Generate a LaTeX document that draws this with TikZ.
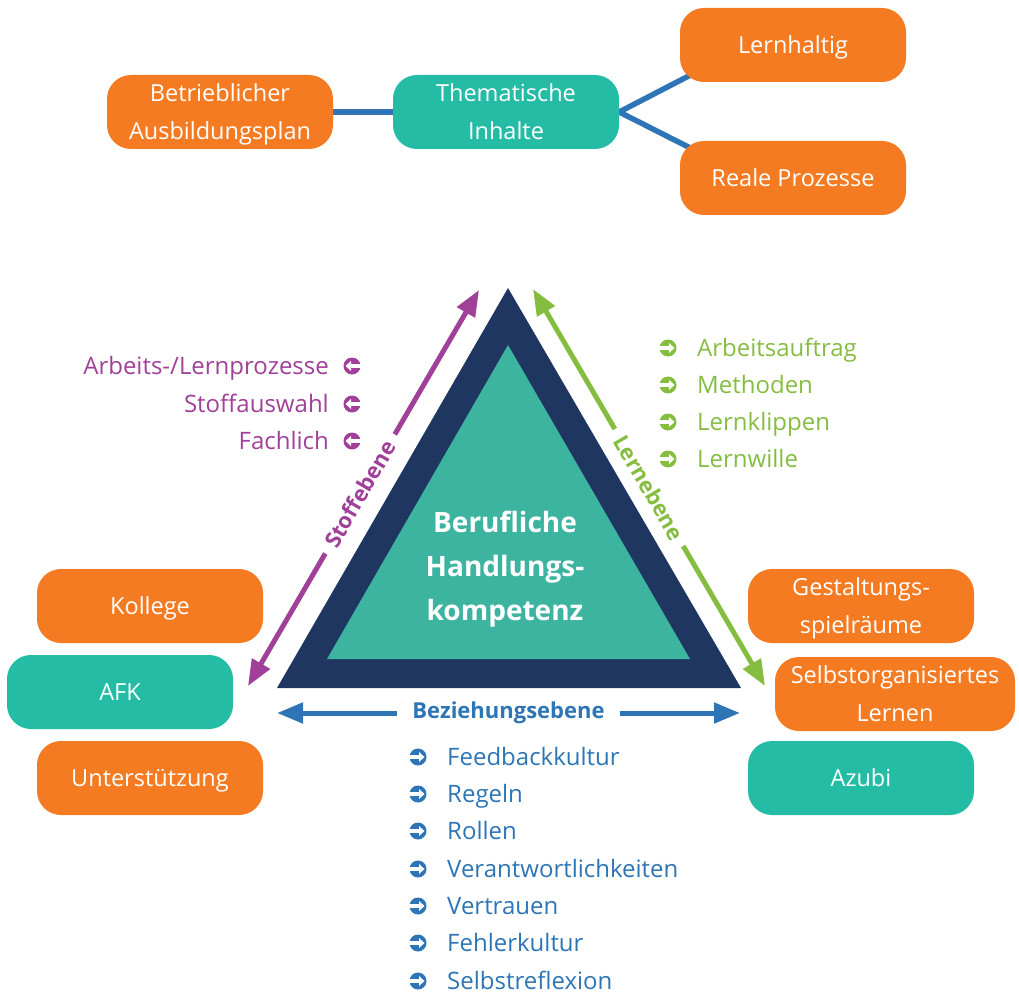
\documentclass[tikz,border=0pt]{standalone}
\usepackage{fontspec}
\setmainfont{Open Sans}
\usetikzlibrary{arrows.meta,backgrounds}

\definecolor{boxorange}{RGB}{244,123,34}
\definecolor{boxteal}{RGB}{37,188,166}
\definecolor{tricore}{RGB}{61,180,160}
\definecolor{trinavy}{RGB}{31,54,97}
\definecolor{stoffmag}{RGB}{161,64,152}
\definecolor{lerngreen}{RGB}{133,189,65}
\definecolor{bezblue}{RGB}{46,117,182}

\begin{document}
\begin{tikzpicture}[x=1pt, y=-1pt,
  box/.style={rounded corners=24pt, minimum width=226pt, minimum height=74pt, inner sep=0pt,
    align=center, text=white, text height=20pt, text depth=3pt, font=\fontsize{23.5}{38}\selectfont},
  twolines/.style={text height=58pt},
  obox/.style={box, fill=boxorange},
  tbox/.style={box, fill=boxteal},
  link/.style={line width=5.5pt, bezblue},
  level/.style={line width=5pt, {Triangle[length=26pt,width=20pt]}-{Triangle[length=26pt,width=20pt]}},
  lvl/.style={sloped, fill=white, inner ysep=1pt, font=\fontsize{22}{22}\selectfont\bfseries},
  % round arrow bullet, pointing right
  rbul/.pic={
    \fill (0,0) circle (8.5);
    \fill[white] (-9,-1.8) -- (1,-1.8) -- (1,-5) -- (6.5,0) -- (1,5) -- (1,1.8) -- (-9,1.8) -- cycle;
  },
  listitem/.style={inner sep=0pt, text height=19pt, text depth=3pt, font=\fontsize{24}{24}\selectfont},
  ritem/.style={listitem, anchor=west,
    append after command={pic[#1] at ([xshift=-29pt]\tikzlastnode.west) {rbul}}},
  litem/.style={listitem, anchor=east,
    append after command={pic[#1, xscale=-1] at ([xshift=23pt]\tikzlastnode.east) {rbul}}}
]
  \useasboundingbox (0,0) rectangle (1019,992);

  % top row
  \node[obox, twolines] (betr) at (220,112) {Betrieblicher\\Ausbildungsplan};
  \node[tbox, twolines] (them) at (506,112) {Thematische\\Inhalte};
  \node[obox] (lern) at (793,45) {Lernhaltig};
  \node[obox] (real) at (793,178) {Reale Prozesse};
  \begin{scope}[on background layer]
    \draw[link] (betr) -- (them);
    \draw[link] (them.east) -- ([xshift=20pt,yshift=12pt]lern.south west);
    \draw[link] (them.east) -- ([xshift=20pt,yshift=-12pt]real.north west);
  \end{scope}

  % triangle
  \fill[trinavy] (508,288) -- (277,688) -- (741,688) -- cycle;
  \fill[tricore] (508,345) -- (327,659) -- (690,659) -- cycle;
  \node[font=\fontsize{28}{44}\selectfont\bfseries, text=white, align=center] (kern) at (505,569)
    {Berufliche\\Handlungs-\\kompetenz};

  % the three levels
  \coordinate (stofftop) at (479,290);
  \coordinate (stoffbot) at (248,686);
  \coordinate (lerntop) at (533,289);
  \coordinate (lernbot) at (765,686);
  \coordinate (bezl) at (277,713);
  \coordinate (bezr) at (740,713);
  \draw[level, stoffmag] (stoffbot) -- (stofftop)
    node[lvl, pos=0.485, text=stoffmag, inner xsep=9pt] {Stoffebene};
  \draw[level, lerngreen] (lerntop) -- (lernbot)
    node[lvl, pos=0.5, text=lerngreen, inner xsep=9pt] {Lernebene};
  \draw[level, bezblue] (bezl) -- (bezr)
    node[lvl, pos=0.5, text=bezblue, inner xsep=15pt] {Beziehungsebene};

  % corner boxes
  \node[obox] (koll) at (150,606) {Kollege};
  \node[tbox] (afk) at (120,692) {AFK};
  \node[obox] (unter) at (150,778) {Unterstützung};
  \node[obox, twolines] (gest) at (861,606) {Gestaltungs-\\spielräume};
  \node[obox, twolines, minimum width=240pt] (selbst) at (895,694) {Selbstorganisiertes\\Lernen};
  \node[tbox] (azubi) at (861,778) {Azubi};

  % lists
  \node[litem=stoffmag, text=stoffmag] (st1) at (329,366) {Arbeits-/Lernprozesse};
  \node[litem=stoffmag, text=stoffmag] (st2) at (329,404) {Stoffauswahl};
  \node[litem=stoffmag, text=stoffmag] (st3) at (329,441) {Fachlich};

  \node[ritem=lerngreen, text=lerngreen] (le1) at (697,348) {Arbeitsauftrag};
  \node[ritem=lerngreen, text=lerngreen] (le2) at (697,385) {Methoden};
  \node[ritem=lerngreen, text=lerngreen] (le3) at (697,422) {Lernklippen};
  \node[ritem=lerngreen, text=lerngreen] (le4) at (697,459) {Lernwille};

  \node[ritem=bezblue, text=bezblue] (bz1) at (447,757) {Feedbackkultur};
  \node[ritem=bezblue, text=bezblue] (bz2) at (447,794) {Regeln};
  \node[ritem=bezblue, text=bezblue] (bz3) at (447,831) {Rollen};
  \node[ritem=bezblue, text=bezblue] (bz4) at (447,869) {Verantwortlichkeiten};
  \node[ritem=bezblue, text=bezblue] (bz5) at (447,906) {Vertrauen};
  \node[ritem=bezblue, text=bezblue] (bz6) at (447,943) {Fehlerkultur};
  \node[ritem=bezblue, text=bezblue] (bz7) at (447,981) {Selbstreflexion};
\end{tikzpicture}
\end{document}
